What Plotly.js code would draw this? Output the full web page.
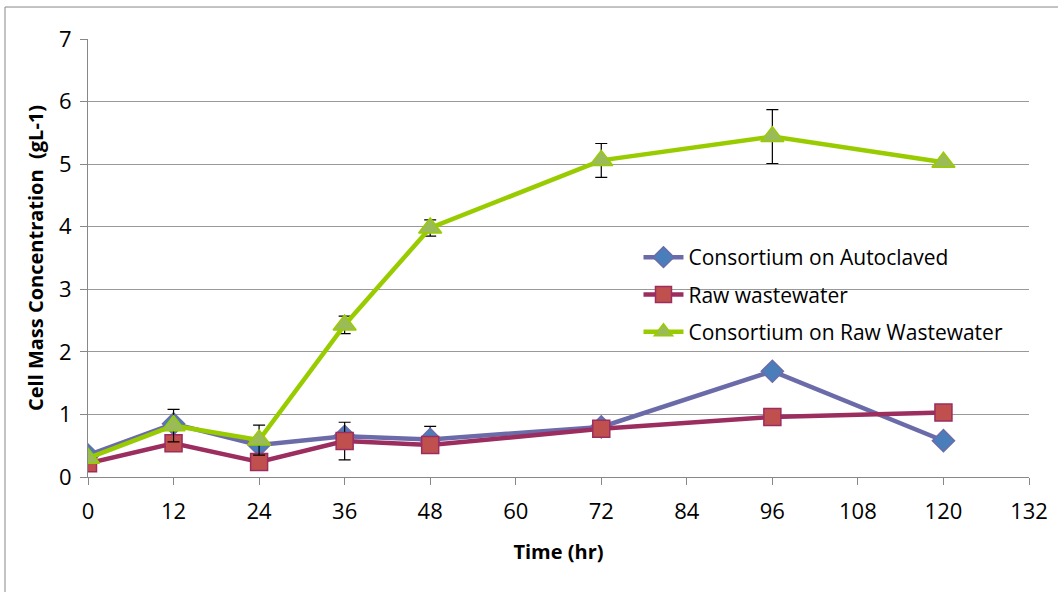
<!DOCTYPE html>
<html>
<head>
<meta charset="utf-8">
<script src="https://cdn.plot.ly/plotly-3.0.1.min.js"></script>
<style>html,body{margin:0;padding:0;background:#fff;}#chart{width:1058px;height:592px;}</style>
</head>
<body>
<div id="chart"></div>
<script>
const timeHr = [0, 12, 24, 36, 48, 72, 96, 120];
const autoclaved = [0.35, 0.85, 0.51, 0.65, 0.60, 0.80, 1.69, 0.58];
const autoclavedErr = [0, 0, 0, 0, 0.21, 0, 0, 0];
const rawWastewater = [0.22, 0.54, 0.24, 0.575, 0.51, 0.77, 0.96, 1.03];
const rawWastewaterErr = [0, 0, 0, 0.30, 0, 0, 0, 0];
const consortiumRaw = [0.30, 0.82, 0.59, 2.43, 3.98, 5.06, 5.44, 5.03];
const consortiumRawErr = [0, 0.26, 0.24, 0.14, 0.13, 0.27, 0.43, 0];
const seriesNames = ['Consortium on Autoclaved', 'Raw wastewater', 'Consortium on Raw Wastewater'];
const xTicks = [0, 12, 24, 36, 48, 60, 72, 84, 96, 108, 120, 132];
const yTicks = [0, 1, 2, 3, 4, 5, 6, 7];

const font = 'Open Sans, Liberation Sans, sans-serif';
function errBar(arr) {
  return {type: 'data', array: arr, visible: true, color: '#000', thickness: 1.2, width: 6};
}
const traces = [
  {x: timeHr, y: autoclaved, name: seriesNames[0], legendgroup: 'a', mode: 'lines+markers', type: 'scatter',
   line: {color: '#6B6BAA', width: 4.5},
   marker: {symbol: 'diamond', size: 17, color: '#4A7EBB', line: {color: '#6B6BAA', width: 1.5}},
   error_y: errBar(autoclavedErr)},
  {x: timeHr, y: rawWastewater, name: seriesNames[1], legendgroup: 'b', mode: 'lines+markers', type: 'scatter',
   line: {color: '#9B2D5F', width: 4.5},
   marker: {symbol: 'square', size: 17, color: '#C0504D', line: {color: '#9B2D5F', width: 1.5}},
   error_y: errBar(rawWastewaterErr)},
  {x: timeHr, y: consortiumRaw, name: seriesNames[2], legendgroup: 'c', mode: 'lines+markers', type: 'scatter',
   line: {color: '#99CC00', width: 4.5},
   marker: {symbol: 'triangle-up', size: 20, color: '#9BBB59', line: {color: '#99CC00', width: 1.5}},
   error_y: errBar(consortiumRawErr)}
];
const layout = {
  width: 1058, height: 592,
  margin: {l: 88, r: 29, t: 39, b: 115},
  paper_bgcolor: '#fff', plot_bgcolor: '#fff',
  font: {family: font, size: 20, color: '#000'},
  showlegend: true,
  legend: {x: 0.585, y: 0.548, xanchor: 'left', yanchor: 'top', bgcolor: 'rgba(0,0,0,0)',
           font: {family: font, size: 21, color: '#000'}, tracegroupgap: 7, itemwidth: 40},
  xaxis: {range: [0, 132], tickvals: xTicks, ticktext: xTicks.map(String), showgrid: false,
          zeroline: false, showline: true, linecolor: '#888', linewidth: 1,
          ticks: 'outside', ticklen: 7, tickcolor: '#888', tickfont: {size: 22, family: font},
          ticklabelstandoff: 8,
          title: {text: '<b>Time (hr)</b>', font: {size: 20, family: font}, standoff: 20}},
  yaxis: {range: [0, 7], tickvals: yTicks, ticktext: yTicks.map(String), showgrid: true,
          gridcolor: '#999', gridwidth: 1, zeroline: false, showline: true, linecolor: '#888',
          ticks: 'outside', ticklen: 7, tickcolor: '#888', tickfont: {size: 22, family: font},
          ticklabelstandoff: 4,
          title: {text: '<b>Cell Mass Concentration  (gL-1)</b>', font: {size: 20, family: font}, standoff: 10}},
  shapes: [{type: 'rect', xref: 'paper', yref: 'paper', x0: -0.0882, x1: 1.1, y0: -0.5, y1: 1.073,
            line: {color: '#888', width: 1}, fillcolor: 'rgba(0,0,0,0)', layer: 'below'}]
};
Plotly.newPlot('chart', traces, layout, {displayModeBar: false, staticPlot: true});
</script>
</body>
</html>
